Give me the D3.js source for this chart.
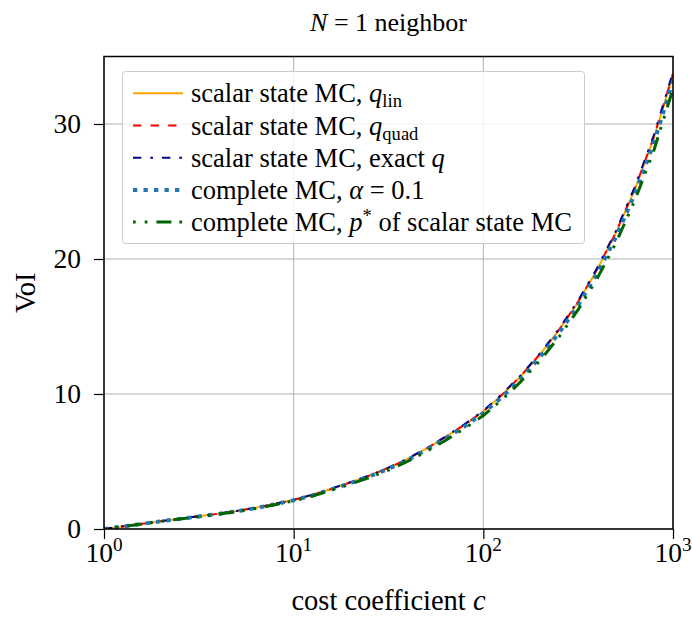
<!DOCTYPE html>
<html><head><meta charset="utf-8">
<script src="https://cdn.jsdelivr.net/npm/d3@7"></script>
<style>
body{margin:0;background:#fff;}
text{font-family:"Liberation Serif","Times New Roman",serif;fill:#000;}
</style></head>
<body><svg id="chart" width="692" height="626"></svg>
<script>
// ---- data ----
const logC = [0.0,0.1,0.2,0.3,0.4,0.5,0.6,0.7,0.8,0.9,1.0,1.1,1.2,1.3,1.4,1.5,1.6,1.7,1.8,1.9,2.0,2.1,2.2,2.3,2.4,2.5,2.6,2.7,2.8,2.9,3.0];
const voiQlin  = [0.00,0.19,0.39,0.58,0.76,0.94,1.12,1.33,1.57,1.85,2.15,2.52,2.98,3.45,3.95,4.52,5.18,5.95,6.80,7.70,8.70,9.95,11.35,12.95,14.75,16.80,19.20,21.95,25.20,29.00,33.60];
const voiQquad = [0.00,0.19,0.38,0.58,0.77,0.94,1.13,1.33,1.58,1.85,2.16,2.53,2.97,3.46,3.96,4.53,5.19,5.96,6.81,7.72,8.72,9.97,11.38,12.98,14.78,16.85,19.25,22.00,25.28,29.08,33.75];
const voiExact = [0.00,0.20,0.39,0.59,0.77,0.95,1.13,1.34,1.58,1.86,2.17,2.54,3.00,3.47,3.97,4.55,5.21,5.98,6.84,7.75,8.76,10.02,11.42,13.03,14.84,16.92,19.33,22.10,25.38,29.20,33.85];
const voiAlpha = [0.00,0.19,0.38,0.57,0.75,0.93,1.11,1.31,1.55,1.83,2.13,2.49,2.94,3.40,3.90,4.46,5.11,5.87,6.70,7.59,8.58,9.80,11.18,12.76,14.54,16.57,18.93,21.65,24.86,28.62,33.20];
const voiPstar = [0.00,0.18,0.37,0.56,0.74,0.91,1.09,1.29,1.52,1.79,2.09,2.44,2.88,3.33,3.82,4.37,5.01,5.75,6.56,7.44,8.40,9.60,10.95,12.50,14.25,16.25,18.55,21.22,24.38,28.08,32.60];
const xTicks = [1,10,100,1000];
const xTickExp = ["0","1","2","3"];
const yTicks = [0,10,20,30];

const seriesStyles = [
  {vals: voiQlin,  color:"#FFA500", w:2,   dash:null},
  {vals: voiQquad, color:"#FF0000", w:2,   dash:"8.3,9.3"},
  {vals: voiExact, color:"#00008B", w:2,   dash:"8.3,9,2.7,9"},
  {vals: voiAlpha, color:"#1f77b4", w:4,   dash:"4.3,6.2"},
  {vals: voiPstar, color:"#006400", w:3,   dash:"2.7,9,2.7,9,15,8"}
];

const svg = d3.select("#chart");
const L=104, R=673, T=56.5, B=529;
const x = d3.scaleLog().domain([1,1000]).range([L,R]);
const y = d3.scaleLinear().domain([0,35]).range([B,T]);

// grid
const grid = svg.append("g");
grid.selectAll(".gx").data(xTicks).enter().append("line")
  .attr("x1",d=>x(d)).attr("x2",d=>x(d)).attr("y1",T).attr("y2",B)
  .attr("stroke","#b0b0b0").attr("stroke-width",1);
grid.selectAll(".gy").data(yTicks).enter().append("line")
  .attr("y1",d=>y(d)).attr("y2",d=>y(d)).attr("x1",L).attr("x2",R)
  .attr("stroke","#b0b0b0").attr("stroke-width",1);

// clip
svg.append("defs").append("clipPath").attr("id","clip")
  .append("rect").attr("x",L).attr("y",T).attr("width",R-L).attr("height",B-T);

const line = d3.line().x((d,i)=>x(Math.pow(10,logC[i]))).y(d=>y(d));
const lines = svg.append("g").attr("clip-path","url(#clip)");
seriesStyles.forEach(s=>{
  lines.append("path").attr("d",line(s.vals)).attr("fill","none")
    .attr("stroke",s.color).attr("stroke-width",s.w)
    .attr("stroke-dasharray",s.dash);
});

// axes
const xAxis = svg.append("g").attr("transform",`translate(0,${B})`)
  .call(d3.axisBottom(x).tickValues(xTicks).tickFormat("").tickSizeInner(10).tickSizeOuter(0));
const yAxis = svg.append("g").attr("transform",`translate(${L},0)`)
  .call(d3.axisLeft(y).tickValues(yTicks).tickFormat("").tickSizeInner(10).tickSizeOuter(0));
[xAxis,yAxis].forEach(a=>{a.select(".domain").remove(); a.selectAll("line").attr("stroke","#000").attr("stroke-width",1.2);});

// frame
svg.append("rect").attr("x",L).attr("y",T).attr("width",R-L).attr("height",B-T)
  .attr("fill","none").attr("stroke","#000").attr("stroke-width",1.5);

// tick labels
const FS = 27.5;
yTicks.forEach(v=>{
  svg.append("text").attr("x",L-23).attr("y",y(v)).attr("dy","0.34em")
    .attr("text-anchor","end").attr("font-size",FS).text(v);
});
xTicks.forEach((v,i)=>{
  const t = svg.append("text").attr("x",x(v)).attr("y",B+33).attr("text-anchor","middle").attr("font-size",FS);
  t.append("tspan").text("10");
  t.append("tspan").attr("font-size",FS*0.7).attr("dy",-11).text(xTickExp[i]);
});

// axis labels
const xl = svg.append("text").attr("x",(L+R)/2).attr("y",610).attr("text-anchor","middle").attr("font-size",28.5);
xl.append("tspan").text("cost coefficient ");
xl.append("tspan").attr("font-style","italic").text("c");
svg.append("text").attr("transform",`translate(35,${(T+B)/2}) rotate(-90)`).attr("text-anchor","middle").attr("font-size",28.5).text("VoI");

// title
const tt = svg.append("text").attr("x",(L+R)/2).attr("y",31).attr("text-anchor","middle").attr("font-size",26);
tt.append("tspan").attr("font-style","italic").text("N");
tt.append("tspan").text(" = 1 neighbor");

// legend
const LFS = 26.5;
const lg = svg.append("g");
lg.append("rect").attr("x",122.5).attr("y",71.5).attr("width",462).attr("height",172).attr("rx",3)
  .attr("fill","#fff").attr("fill-opacity",0.8).attr("stroke","#cccccc").attr("stroke-width",1);
const rowY = [93.3,125.5,157.7,189.9,222.1];
const labels = [
  [["scalar state MC, ",""],["q","i"],["lin","sub"]],
  [["scalar state MC, ",""],["q","i"],["quad","sub"]],
  [["scalar state MC, exact ",""],["q","i"]],
  [["complete MC, ",""],["α","i"],[" = 0.1",""]],
  [["complete MC, ",""],["p","i"],["*","sup"],[" of scalar state MC",""]]
];
seriesStyles.forEach((s,i)=>{
  lg.append("line").attr("x1",133).attr("x2",183).attr("y1",rowY[i]).attr("y2",rowY[i])
    .attr("stroke",s.color).attr("stroke-width",s.w).attr("stroke-dasharray",s.dash);
  const t = lg.append("text").attr("x",191).attr("y",rowY[i]).attr("dy","0.34em").attr("font-size",LFS);
  let shift = 0;
  labels[i].forEach(([str,kind])=>{
    const sp = t.append("tspan").text(str);
    if(kind==="i") sp.attr("font-style","italic");
    if(kind==="sub"){ sp.attr("font-size",LFS*0.7).attr("dy",5); shift=-5; }
    else if(kind==="sup"){ sp.attr("font-size",LFS*0.7).attr("dy",-9); shift=9; }
    else if(shift!==0){ sp.attr("dy",shift); shift=0; }
  });
});
</script></body></html>
